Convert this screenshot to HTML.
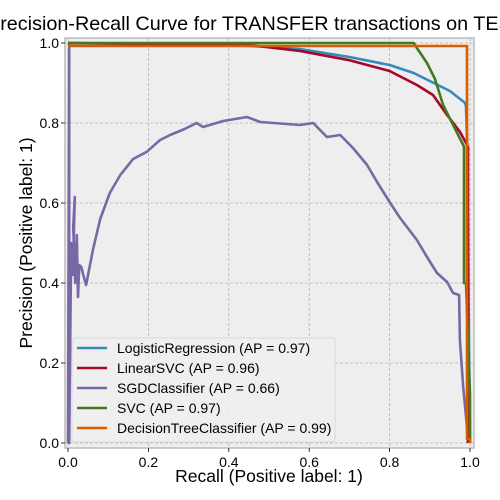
<!DOCTYPE html>
<html><head><meta charset="utf-8"><style>
body{margin:0;background:#fff}
svg{display:block;font-family:"Liberation Sans",Arial,sans-serif}
</style></head><body>
<svg id="chart" width="500" height="500" viewBox="0 0 500 500">
<rect x="0" y="0" width="500" height="500" fill="#fff"/>
<rect x="65" y="38" width="409" height="410" fill="#eeeeee"/>
<g id="grid"></g>
<g id="series"></g>
<rect x="65" y="38" width="409" height="410" fill="none" stroke="#bcbcbc" stroke-width="1.5"/>
<g id="ticks"></g>
<text x="-13" y="30" font-size="19.8" fill="#000">Precision-Recall Curve for TRANSFER transactions on TEST set</text>
<text x="269" y="482" font-size="17.5" text-anchor="middle">Recall (Positive label: 1)</text>
<text transform="translate(32,243) rotate(-90)" font-size="17.5" text-anchor="middle">Precision (Positive label: 1)</text>
<g id="legend">
<rect x="72" y="338" width="263" height="104" rx="3" fill="#eeeeee" fill-opacity="0.85" stroke="#d8d8d8"/>
</g>
</svg>
<script>
const xTicks=[0,0.2,0.4,0.6,0.8,1.0];
const yTicks=[0,0.2,0.4,0.6,0.8,1.0];
const tickLabels=["0.0","0.2","0.4","0.6","0.8","1.0"];
const seriesNames=["LogisticRegression (AP = 0.97)","LinearSVC (AP = 0.96)","SGDClassifier (AP = 0.66)","SVC (AP = 0.97)","DecisionTreeClassifier (AP = 0.99)"];
const seriesColors=["#348ABD","#A60628","#7A68A6","#467821","#D55E00"];
const lrRecall=[0,0.40,0.50,0.577,0.70,0.80,0.86,0.91,0.95,0.988,0.99,0.993,0.997,1.0];
const lrPrec=[1.0,0.995,0.99,0.985,0.965,0.945,0.925,0.90,0.88,0.85,0.84,0.75,0.3,0.0];
const svcLinRecall=[0,0.45,0.577,0.70,0.80,0.868,0.908,0.943,0.975,0.99,0.995,0.995];
const svcLinPrec=[1.0,0.995,0.98,0.957,0.93,0.895,0.87,0.82,0.778,0.75,0.74,0.0];
const sgdRecall=[0,0.003,0.003,0.008,0.012,0.017,0.013,0.015,0.018,0.022,0.025,0.028,0.033,0.038,0.045,0.062,0.08,0.104,0.13,0.162,0.196,0.229,0.254,0.29,0.32,0.336,0.386,0.445,0.478,0.577,0.61,0.644,0.677,0.709,0.744,0.769,0.80,0.826,0.868,0.893,0.918,0.943,0.958,0.973,0.975,0.983,0.9925,0.995];
const sgdPrec=[0.0,1.0,0.0,0.50,0.42,0.615,0.54,0.49,0.40,0.52,0.365,0.445,0.44,0.42,0.395,0.4825,0.56,0.625,0.67,0.71,0.728,0.7575,0.77,0.785,0.80,0.79,0.805,0.815,0.8025,0.795,0.80,0.765,0.77,0.7375,0.695,0.6525,0.6025,0.5625,0.5075,0.465,0.425,0.4025,0.375,0.37,0.2575,0.14,0.04,0.0];
const svcRecall=[0,0.86,0.868,0.893,0.913,0.933,0.958,0.983,0.985,0.985,0.99,1.0,1.0];
const svcPrec=[1.0,1.0,0.9875,0.95,0.91,0.845,0.795,0.745,0.74,0.40,0.40,0.12,0.0];
const dtRecall=[0,0.9925,0.9925,1.0,1.0];
const dtPrec=[0.9925,0.9925,0.01,0.01,0.0];
const allRecall=[lrRecall,svcLinRecall,sgdRecall,svcRecall,dtRecall];
const allPrec=[lrPrec,svcLinPrec,sgdPrec,svcPrec,dtPrec];

const NS="http://www.w3.org/2000/svg";
function X(v){return 68+402*v;}
function Y(v){return 443-400*v;}
function mk(tag,attrs,parent){const e=document.createElementNS(NS,tag);for(const k in attrs)e.setAttribute(k,attrs[k]);parent.appendChild(e);return e;}
const grid=document.getElementById('grid'),ticks=document.getElementById('ticks'),series=document.getElementById('series'),legend=document.getElementById('legend');
xTicks.forEach((v,i)=>{
  const g=mk('line',{x1:X(v),x2:X(v),y1:38,y2:448,stroke:'#b2b2b2','stroke-width':0.8,'stroke-dasharray':'3,2'},grid);
  
  
  const t=mk('line',{x1:X(v),x2:X(v),y1:448,y2:452,stroke:'#000','stroke-width':0.8},ticks);
  
  
  const l=mk('text',{x:X(v),y:467,'font-size':14,'text-anchor':'middle'},ticks);
  l.textContent=tickLabels[i];
  
  
});
yTicks.forEach((v,i)=>{
  const g=mk('line',{x1:65,x2:474,y1:Y(v),y2:Y(v),stroke:'#b2b2b2','stroke-width':0.8,'stroke-dasharray':'3,2'},grid);
  
  
  const t=mk('line',{x1:61,x2:65,y1:Y(v),y2:Y(v),stroke:'#000','stroke-width':0.8},ticks);
  
  
  const l=mk('text',{x:59,y:Y(v)+5,'font-size':14,'text-anchor':'end'},ticks);
  l.textContent=tickLabels[i];
  
  
});
const order=[2,0,1,3,4];
const names=['logistic-regression-curve','linear-svc-curve','sgd-classifier-curve','svc-curve','decision-tree-curve'];
order.forEach(i=>{
  const r=allRecall[i],p=allPrec[i];
  const d=r.map((v,j)=>(j?'L':'M')+X(v).toFixed(1)+','+Y(p[j]).toFixed(1)).join('');
  const path=mk('path',{d:d,fill:'none',stroke:seriesColors[i],'stroke-width':2.6,'stroke-linejoin':'round'},series);
  
  
});
seriesNames.forEach((n,i)=>{
  const y=348+20*i;
  const ln=mk('line',{x1:77,x2:107,y1:y,y2:y,stroke:seriesColors[i],'stroke-width':2.6},legend);
  
  
  const t=mk('text',{x:117,y:y+5,'font-size':14},legend);
  t.textContent=n;
  
  
});
</script>
</body></html>
